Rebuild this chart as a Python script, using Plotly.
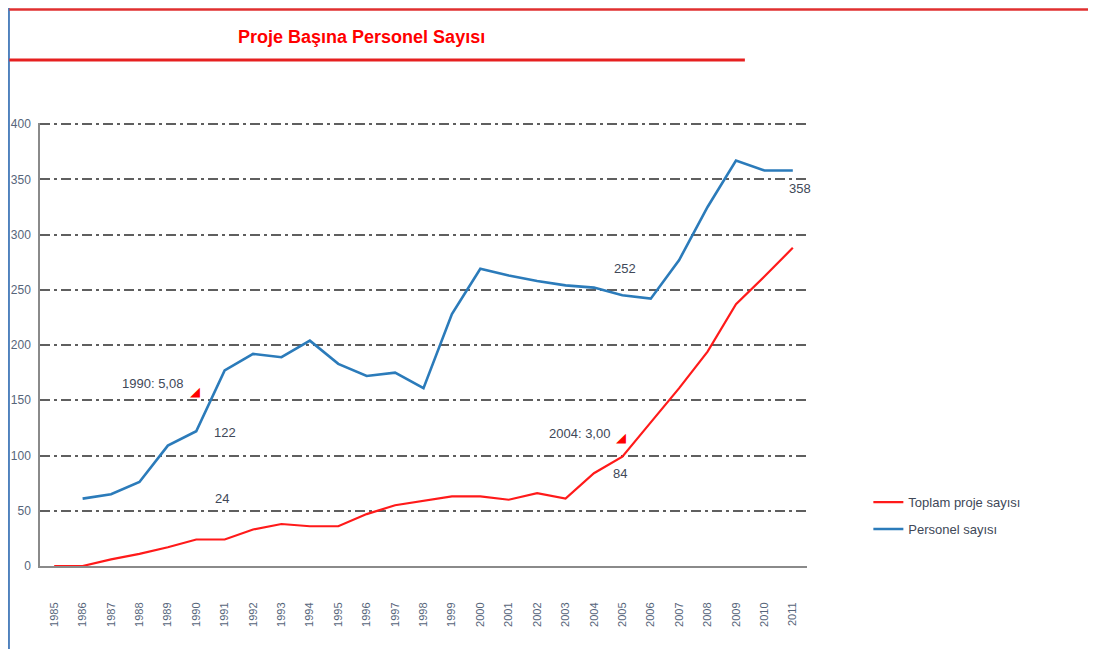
import plotly.graph_objects as go

# data
years = list(range(1985, 2012))
proje = [0, 0, 6, 11, 17, 24, 24, 33, 38, 36, 36, 47, 55, 59, 63, 63, 60, 66, 61,
         84, 99, 130, 161, 194, 237, 262, 288]
personel = [None, 61, 65, 76, 109, 122, 177, 192, 189, 204, 183, 172, 175, 161, 228,
            269, 263, 258, 254, 252, 245, 242, 277, 325, 367, 358, 358]
y_ticks = [0, 50, 100, 150, 200, 250, 300, 350, 400]

FONT = "Liberation Sans Narrow, Arial Narrow, Liberation Sans, sans-serif"
TXT = "#404858"
RED = "#ff1a1a"
BLUE = "#2b7bba"

fig = go.Figure()
fig.add_trace(go.Scatter(x=years, y=proje, mode="lines", name="Toplam proje sayısı",
                         legendgroup="a", line=dict(color=RED, width=2.2)))
fig.add_trace(go.Scatter(x=years, y=personel, mode="lines", name="Personel sayısı",
                         legendgroup="b", line=dict(color=BLUE, width=2.6)))

# the page body adds an 8px offset, so the figure is 8px smaller each way
fig.update_layout(
    width=1088, height=641,
    margin=dict(l=32, r=289, t=115, b=83),
    paper_bgcolor="white", plot_bgcolor="white",
    font=dict(family=FONT, size=13, color=TXT),
    showlegend=True,
    legend=dict(x=1.08, y=0.178, xanchor="left", yanchor="top",
                font=dict(size=13, color=TXT), bgcolor="rgba(0,0,0,0)",
                tracegroupgap=7),
    title=dict(text="<b>Proje Başına Personel Sayısı</b>", x=0.325, y=0.955,
               xanchor="center", yanchor="middle",
               font=dict(family=FONT, size=18, color="#ff0000")),
)

fig.update_xaxes(range=[1984.5, 2011.5], tickmode="array", tickvals=years,
                 ticktext=[str(y) for y in years], tickangle=-90,
                 tickfont=dict(size=11, color="#56657a"), ticklabelstandoff=30,
                 showgrid=False, zeroline=False, showline=True, automargin=False,
                 linecolor="#8a8a8a", linewidth=2, ticks="")
fig.update_yaxes(range=[0, 401], tickmode="array", tickvals=y_ticks,
                 tickfont=dict(size=12, color="#56657a"), ticklabelstandoff=5,
                 showgrid=True, gridcolor="#5f5f5f", gridwidth=1.6, automargin=False,
                 griddash="10px,4px,3px,4px", zeroline=False, showline=True,
                 linecolor="#8a8a8a", linewidth=1.5, ticks="")

# data labels and ratio notes
notes = [
    (1988.45, 165, "1990: 5,08", "center"),
    (1991.0, 121, "122", "center"),
    (1990.9, 61, "24", "center"),
    (2003.5, 120, "2004: 3,00", "center"),
    (2004.9, 84, "84", "center"),
    (2005.1, 269, "252", "center"),
    (2011.25, 342, "358", "center"),
    (2011.6, 286, "288", "left"),
    (2011.75, 391, "Proje Başına Personel Sayısı,<br>2011: 1,24", "left"),
]
for x, y, t, anc in notes:
    fig.add_annotation(x=x, y=y, text=t, showarrow=False, xanchor=anc,
                       align="left", font=dict(size=13, color=TXT))

for x, y, glyph in [(1989.96, 158, "◢"), (2004.95, 116, "◢"), (2011.53, 371, "◣")]:
    fig.add_annotation(x=x, y=y, text=glyph, showarrow=False,
                       font=dict(family="DejaVu Sans", size=13, color="#ff0000"))

# page frame and title rule
fig.add_shape(type="line", xref="paper", yref="paper", x0=-0.0405, x1=-0.0405,
              y0=-0.19, y1=1.26, line=dict(color="#4f81bd", width=2))
fig.add_shape(type="line", xref="paper", yref="paper", x0=-0.04, x1=1.38,
              y0=1.256, y1=1.256, line=dict(color="#e03030", width=2.5))
fig.add_shape(type="line", xref="paper", yref="paper", x0=-0.04, x1=0.919,
              y0=1.142, y1=1.142, line=dict(color="#e62020", width=3))

fig.write_html("out.html")
